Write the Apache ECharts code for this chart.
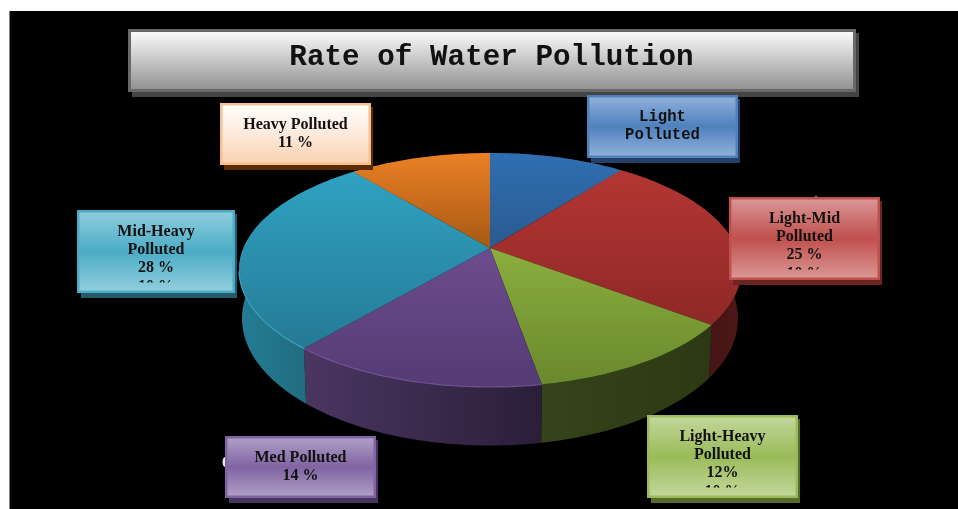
<!DOCTYPE html>
<html>
<head>
<meta charset="utf-8">
<title>Rate of Water Pollution</title>
<script src="https://cdn.jsdelivr.net/npm/echarts@6/dist/echarts.min.js"></script>
<style>
  html, body { margin: 0; padding: 0; background: #fff; }
  #chart { width: 958px; height: 509px; }
</style>
</head>
<body>
<div id="chart"></div>
<script>
// Pollution classes and their share of the total, clockwise from twelve o'clock.
const chartTitle = 'Rate of Water Pollution';
const categories = ['Light Polluted', 'Light-Mid Polluted', 'Light-Heavy Polluted', 'Med Polluted', 'Mid-Heavy Polluted', 'Heavy Polluted'];
const values = [10.5, 25, 12, 14, 28, 11];
const nameLines = [['Light', 'Polluted'], ['Light-Mid', 'Polluted'], ['Light-Heavy', 'Polluted'], ['Med Polluted'], ['Mid-Heavy', 'Polluted'], ['Heavy Polluted']];
const valueLabels = ['', '25 %', '12%', '14 %', '28 %', '11 %'];
const clippedLines = ['', '10 %', '10 %', '', '10 %', ''];

// Slice styling: top face gradient, wall gradient, rim highlight.
const topFaces = [
  ['#2f6fb2', '#2a5a90'], ['#b43634', '#8e2826'], ['#8cae3e', '#6a882d'],
  ['#6d4c8e', '#543b74'], ['#30a2c2', '#257a95'], ['#ea8026', '#a75914']
];
const wallFaces = [
  ['#1c3c60', '#1c3c60'], ['#3a1113', '#4c1717'], ['#35441a', '#2c3914'],
  ['#4b3662', '#2a1e38'], ['#237d94', '#1e6071'], ['#5c2c05', '#5c2c05']
];
const rimColors = [null, null, null, 'rgba(125,94,162,0.8)', 'rgba(63,176,207,0.8)', null];

// Callout boxes: [left, top, right, bottom, border, top colour, middle colour, bottom colour, shadow].
const boxes = [
  [587, 95, 738, 158, '#4f81bd', '#95b3dd', '#4f81bd', '#95b3dd', '#25416a'],
  [729, 197, 880, 280, '#c0504d', '#dc9a99', '#c0504d', '#dc9a99', '#6a2523'],
  [647, 415, 798, 498, '#9bbb59', '#c4d89f', '#9bbb59', '#c4d89f', '#566b2c'],
  [225, 436, 376, 498, '#8064a2', '#b2a2c7', '#8064a2', '#b2a2c7', '#46365e'],
  [77, 210, 235, 293, '#4bacc6', '#94cfde', '#4bacc6', '#94cfde', '#245b6c'],
  [220, 103, 371, 165, '#fabf8f', '#ffffff', '#fdeadb', '#f9d0ae', '#5c2c05']
];

// Perspective disc: the apex sits above the centre of the projected ellipse.
const disc = { cx: 490, cy: 270, rx: 251, ry: 117, apexShift: 0.188 };

function rimPoint(fraction) {
  const a = fraction * 2 * Math.PI;
  const u = Math.sin(a), v = Math.cos(a), k = disc.apexShift;
  const w = 1 + k * v;
  return { u: u * Math.sqrt(1 - k * k) / w, v: (v + k) / w };
}
const toTop = p => [disc.cx + p.u * disc.rx, disc.cy - p.v * disc.ry];
const toBottom = p => [
  disc.cx + p.u * disc.rx * 0.988,
  disc.cy - p.v * disc.ry + 48.5 - 10 * p.v
];
const total = values.reduce((s, v) => s + v, 0);

function sliceRim(index, api) {
  let start = 0;
  for (let i = 0; i < index; i++) start += values[i];
  const value = api.value(0);
  const steps = Math.max(8, Math.round(value * 3));
  const rim = [];
  for (let i = 0; i <= steps; i++) rim.push(rimPoint((start + value * i / steps) / total));
  return rim;
}
const vertical = c => ({ type: 'linear', x: 0, y: 0, x2: 0, y2: 1, colorStops: [{ offset: 0, color: c[0] }, { offset: 1, color: c[1] }] });
const horizontal = c => ({ type: 'linear', x: 0, y: 0, x2: 1, y2: 0, colorStops: [{ offset: 0, color: c[0] }, { offset: 1, color: c[1] }] });

function renderWall(params, api) {
  const rim = sliceRim(params.dataIndex, api);
  return {
    type: 'polygon',
    shape: { points: rim.map(toTop).concat(rim.map(toBottom).reverse()) },
    style: { fill: horizontal(wallFaces[params.dataIndex]) }
  };
}

function renderTop(params, api) {
  const i = params.dataIndex;
  const rim = sliceRim(i, api);
  const apex = [disc.cx, disc.cy - disc.apexShift * disc.ry];
  const children = [{
    type: 'polygon',
    shape: { points: [apex].concat(rim.map(toTop)) },
    style: { fill: vertical(topFaces[i]) }
  }];
  if (rimColors[i]) {
    const front = rim.filter(p => p.v < 0).map(toTop);
    children.push({
      type: 'polyline',
      shape: { points: front },
      style: { fill: null, stroke: rimColors[i], lineWidth: 1.2 }
    });
  }
  return { type: 'group', children };
}

function renderCallout(params) {
  const i = params.dataIndex;
  const [l, t, r, b, border, c0, c1, c2, shadow] = boxes[i];
  const cx = (l + r) / 2;
  const lines = nameLines[i].concat(valueLabels[i] ? [valueLabels[i]] : []);
  const mono = i === 0;
  const font = mono ? "bold 15.6px 'Liberation Mono'" : "bold 16px 'Liberation Serif'";
  const h = 18;
  const firstY = mono ? t + 22 : t + 21.5;
  const children = [
    { type: 'rect', shape: { x: l + 4, y: t + 4, width: r - l - 2, height: b - t + 1 }, style: { fill: shadow } },
    {
      type: 'rect',
      shape: { x: l + 1.25, y: t + 1.25, width: r - l - 2.5, height: b - t - 2.5 },
      style: {
        fill: {
          type: 'linear', x: 0, y: 0, x2: 0, y2: 1,
          colorStops: [{ offset: 0, color: c0 }, { offset: 0.5, color: c1 }, { offset: 1, color: c2 }]
        },
        stroke: border, lineWidth: 2.5
      }
    }
  ];
  lines.forEach((text, n) => {
    children.push({
      type: 'text',
      style: { text, x: cx, y: firstY + n * h, font, fill: '#111', textAlign: 'center', textVerticalAlign: 'middle' }
    });
  });
  if (clippedLines[i]) {
    // A further line overflows the box's text area, so only its top shows.
    const y = firstY + lines.length * h;
    children.push({
      type: 'text',
      style: { text: clippedLines[i], x: cx, y: y + 1, font, fill: '#111', textAlign: 'center', textVerticalAlign: 'middle' },
      clipPath: { type: 'rect', shape: { x: l, y: y - 10, width: r - l, height: 7 } }
    });
  }
  return { type: 'group', children };
}

const sliceData = values.map((v, i) => ({ name: categories[i], value: v }));
const chart = echarts.init(document.getElementById('chart'), null, { renderer: 'canvas' });
chart.setOption({
  animation: false,
  backgroundColor: '#ffffff',
  title: {
    text: chartTitle,
    left: 486.5,
    top: 36.5,
    textAlign: 'center',
    z: 20,
    textStyle: { fontFamily: 'Liberation Mono', fontWeight: 'bold', fontSize: 29.3, color: '#111', lineHeight: 32 }
  },
  graphic: {
    elements: [
      { type: 'rect', z: 0, shape: { x: 9.5, y: 11, width: 949, height: 498 }, style: { fill: '#000' } },
      { type: 'rect', z: 1, shape: { x: 132, y: 33, width: 727, height: 64 }, style: { fill: '#444' } },
      {
        type: 'rect', z: 1,
        shape: { x: 129.5, y: 30.5, width: 725, height: 60 },
        style: {
          fill: { type: 'linear', x: 0, y: 0, x2: 0, y2: 1, colorStops: [{ offset: 0, color: '#ffffff' }, { offset: 1, color: '#8d8d8d' }] },
          stroke: '#696969', lineWidth: 3
        }
      },
      { type: 'ellipse', z: 1, shape: { cx: 225, cy: 462, rx: 2.5, ry: 5 }, style: { fill: '#e8e8e8' } },
      { type: 'circle', z: 1, shape: { cx: 816, cy: 197, r: 1.5 }, style: { fill: '#777' } },
      { type: 'circle', z: 1, shape: { cx: 881, cy: 207, r: 1.2 }, style: { fill: '#666' } }
    ]
  },
  series: [
    { type: 'custom', coordinateSystem: 'none', z: 3, silent: true, data: sliceData, renderItem: renderWall },
    { type: 'custom', coordinateSystem: 'none', z: 4, silent: true, data: sliceData, renderItem: renderTop },
    { type: 'custom', coordinateSystem: 'none', z: 5, silent: true, data: sliceData, renderItem: renderCallout }
  ]
});
</script>
</body>
</html>
